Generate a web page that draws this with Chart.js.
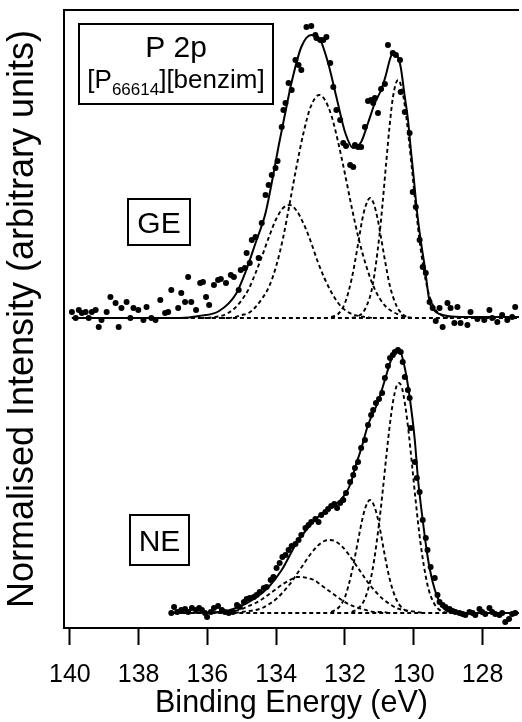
<!DOCTYPE html>
<html><head><meta charset="utf-8">
<script src="https://cdn.jsdelivr.net/npm/chart.js@4/dist/chart.umd.min.js"></script>
<style>html,body{margin:0;padding:0;background:#fff}canvas{display:block}</style>
</head><body>
<canvas id="c" width="522" height="722"></canvas>
<script>
// ---------- tick labels ----------
const xTicks = [140, 138, 136, 134, 132, 130, 128];

// ---------- GE spectrum (upper trace) ----------
const geDataE = [139.94,139.83,139.74,139.65,139.54,139.45,139.36,139.25,139.16,139.08,138.93,138.82,138.67,138.58,138.50,138.35,138.24,138.15,138.01,137.86,137.77,137.63,137.51,137.37,137.23,137.14,137.05,136.85,136.76,136.65,136.56,136.47,136.33,136.21,136.13,136.04,135.95,135.81,135.69,135.61,135.46,135.32,135.23,135.09,135.03,134.91,134.86,134.77,134.71,134.60,134.51,134.42,134.31,134.22,134.13,134.02,133.96,133.84,133.79,133.73,133.64,133.55,133.44,133.35,133.27,133.12,132.98,132.86,132.83,132.72,132.63,132.54,132.43,132.34,132.25,132.14,132.05,131.97,131.85,131.76,131.71,131.62,131.53,131.42,131.33,131.24,131.18,131.13,131.04,130.95,130.84,130.75,130.61,130.52,130.40,130.38,130.26,130.12,130.03,129.94,129.83,129.74,129.65,129.54,129.45,129.36,129.25,129.16,129.02,128.93,128.82,128.73,128.64,128.44,128.35,128.15,127.95,127.80,127.72,127.57,127.43,127.28,127.14,127.05];
const geDataY = [316,310,318,315,316,310,316,318,301,308,316,331,325,301,320,326,310,320,318,308,321,310,308,328,315,316,338,320,335,326,351,326,318,345,346,331,323,343,348,349,345,353,351,338,358,360,375,365,388,391,370,405,433,443,453,460,467,501,518,525,545,538,568,563,558,601,602,593,590,588,588,591,565,541,518,508,485,482,463,461,483,481,481,501,527,528,525,530,515,539,544,583,575,573,568,536,516,495,436,421,388,361,355,326,320,307,320,301,325,320,305,321,305,303,316,309,308,318,310,306,313,308,311,321];

const geFitE = [139.94,136.79,136.24,135.66,135.17,134.88,134.60,134.31,134.13,133.93,133.79,133.55,133.27,132.98,132.72,132.49,132.25,131.99,131.76,131.53,131.33,131.13,130.95,130.81,130.69,130.61,130.46,130.38,130.26,130.17,130.09,130.00,129.91,129.80,129.68,129.54,129.42,129.25,129.02,128.44,126.94];
const geFitY = [310,310,312,317,334,357,385,415,445,482,506,546,581,593,588,565,531,495,480,486,505,525,538,553,569,575,571,561,531,509,480,450,418,388,361,326,318,314,312,311,311];

const geBaseE = [139.94, 126.94];
const geBaseY = [310, 310];

const geAE = [135.6,135.4,135.2,135.0,134.8,134.6,134.4,134.2,134.0,133.8,133.6,133.4,133.2,133.0,132.75,132.6,132.4,132.2,132.0,131.8,131.6,131.4,131.2,131.0,130.8,130.6,130.4,130.2,130.0];
const geAY = [310,310,311,313,315,321,330,342,362,390,426,463,496,521,533,529,513,486,454,420,389,364,344,330,321,316,313,311,310];

const geBE = [136.2,136.0,135.8,135.6,135.4,135.2,135.0,134.8,134.6,134.4,134.2,134.0,133.8,133.6,133.4,133.2,133.0,132.8,132.6,132.4,132.2,132.0,131.8,131.6,131.4,131.2];
const geBY = [310,310,311,312,315,320,328,339,355,373,392,409,420,423,417,404,387,367,350,336,325,318,314,312,311,310];

const geCE = [132.4,132.2,132.0,131.8,131.7,131.6,131.5,131.4,131.27,131.15,131.05,130.95,130.85,130.7,130.5,130.3,130.1];
const geCY = [311,314,325,350,368,388,408,422,430,423,409,390,370,343,322,313,310];

const geDE = [131.8,131.6,131.4,131.2,131.0,130.9,130.8,130.7,130.6,130.46,130.35,130.25,130.15,130.05,129.95,129.8,129.6,129.4,129.2,129.0];
const geDY = [310,312,320,342,392,427,466,503,532,548,540,520,491,458,424,379,339,320,313,310];

// ---------- NE spectrum (lower trace) ----------
const neDataE = [137.05,136.97,136.88,136.76,136.65,136.56,136.45,136.33,136.24,136.16,136.07,136.01,135.90,135.81,135.69,135.58,135.49,135.38,135.26,135.14,135.06,134.94,134.86,134.77,134.65,134.57,134.48,134.36,134.28,134.16,134.08,133.99,133.90,133.82,133.73,133.64,133.55,133.44,133.35,133.27,133.15,133.06,132.98,132.86,132.77,132.69,132.57,132.49,132.40,132.31,132.23,132.14,132.05,131.97,131.85,131.76,131.71,131.62,131.53,131.42,131.33,131.24,131.18,131.10,131.01,130.92,130.84,130.75,130.69,130.61,130.55,130.46,130.38,130.32,130.26,130.17,130.12,130.09,129.97,129.91,129.83,129.74,129.65,129.60,129.51,129.39,129.31,129.25,129.16,129.08,128.96,128.87,128.79,128.67,128.58,128.50,128.38,128.29,128.21,128.09,128.01,127.92,127.80,127.72,127.63,127.51,127.43,127.34,127.23,127.14,127.05];
const neDataY = [15,21,16,18,19,16,20,18,20,18,15,11,16,20,22,18,16,15,16,23,21,26,29,30,31,33,36,40,41,48,51,60,65,71,73,78,82,84,88,93,100,103,106,109,106,113,116,119,122,124,120,125,128,135,146,153,160,166,180,188,203,213,218,225,229,235,250,262,270,273,276,278,276,266,251,238,230,200,166,150,136,108,90,78,61,50,33,26,23,21,19,17,16,15,14,13,16,15,13,19,16,14,20,16,14,13,15,6,9,14,15];

const neFitE = [137.11,135.66,135.09,134.60,134.22,133.84,133.44,133.06,132.69,132.28,131.99,131.82,131.71,131.53,131.33,131.04,130.84,130.66,130.52,130.40,130.26,130.12,129.97,129.88,129.74,129.60,129.45,129.25,129.02,128.64,126.94];
const neFitY = [15,16,21,30,41,58,83,101,114,123,134,146,160,179,203,226,248,268,276,276,260,231,188,150,108,72,46,26,17,15,15];

const neBaseE = [137.11, 126.94];
const neBaseY = [15, 15];

const neAE = [131.8,131.6,131.4,131.2,131.0,130.9,130.8,130.7,130.6,130.5,130.43,130.35,130.25,130.15,130.05,129.95,129.8,129.6,129.4,129.2,129.0];
const neAY = [16,20,31,58,107,138,171,202,227,242,245,241,223,196,163,129,84,43,24,17,15];

const neBE = [132.4,132.2,132.0,131.8,131.7,131.6,131.5,131.4,131.27,131.15,131.05,130.95,130.85,130.7,130.5,130.3,130.1];
const neBY = [16,20,31,56,73,91,108,121,128,122,110,93,74,49,28,19,16];

const neCE = [135.2,135.0,134.8,134.6,134.4,134.2,134.0,133.8,133.6,133.4,133.2,133.0,132.8,132.6,132.45,132.3,132.1,131.9,131.7,131.5,131.3,131.1,130.9,130.7,130.5,130.3,130.1,129.9,129.7];
const neCY = [15,16,17,18,20,24,29,36,44,54,64,74,82,87,88,87,82,74,64,54,44,36,29,24,20,18,17,16,15];

const neDE = [135.8,135.6,135.4,135.2,135.0,134.8,134.6,134.4,134.2,134.0,133.8,133.6,133.4,133.27,133.1,132.9,132.7,132.5,132.3,132.1,131.9,131.7,131.5,131.3,131.1,130.9,130.7];
const neDY = [15,16,16,17,19,22,25,29,34,39,44,48,51,51,50,48,43,38,33,28,24,21,19,17,16,16,15];

// ---------- helpers ----------
function pts(xs, ys) { return xs.map((x, i) => ({ x: x, y: ys[i] })); }
const FONT = '"Liberation Sans", Arial, Helvetica, sans-serif';

function dots(label, e, y) {
  return { label, data: pts(e, y), showLine: false, pointRadius: 3, pointHoverRadius: 3,
           pointBackgroundColor: '#000', pointBorderWidth: 0, order: 0 };
}
function solid(label, e, y) {
  return { label, data: pts(e, y), showLine: true, pointRadius: 0, borderColor: '#000',
           borderWidth: 2, cubicInterpolationMode: 'monotone', order: 1 };
}
function dashed(label, e, y) {
  return { label, data: pts(e, y), showLine: true, pointRadius: 0, borderColor: '#000',
           borderWidth: 1.9, borderDash: [4, 3], cubicInterpolationMode: 'monotone', order: 2 };
}

const datasets = [
  dots('GE data', geDataE, geDataY),
  solid('GE fit', geFitE, geFitY),
  dashed('GE baseline', geBaseE, geBaseY),
  dashed('GE comp 1', geAE, geAY),
  dashed('GE comp 2', geBE, geBY),
  dashed('GE comp 3', geCE, geCY),
  dashed('GE comp 4', geDE, geDY),
  dots('NE data', neDataE, neDataY),
  solid('NE fit', neFitE, neFitY),
  dashed('NE baseline', neBaseE, neBaseY),
  dashed('NE comp 1', neAE, neAY),
  dashed('NE comp 2', neBE, neBY),
  dashed('NE comp 3', neCE, neCY),
  dashed('NE comp 4', neDE, neDY)
];

const framePlugin = {
  id: 'frameAndLabels',
  afterDraw(chart) {
    const ctx = chart.ctx, a = chart.chartArea;
    ctx.save();
    ctx.strokeStyle = '#000';
    ctx.lineWidth = 2;
    ctx.beginPath();
    ctx.moveTo(a.left - 1, a.top);
    ctx.lineTo(a.right, a.top);
    ctx.stroke();

    function box(x, y, w, h) { ctx.lineWidth = 2; ctx.strokeRect(x, y, w, h); }
    ctx.fillStyle = '#000';
    ctx.textBaseline = 'alphabetic';
    ctx.textAlign = 'left';

    box(79, 24, 194, 80);
    ctx.font = '30px ' + FONT;
    let t = 'P 2p';
    ctx.fillText(t, 176 - ctx.measureText(t).width / 2, 57);
    const f1 = '26px ' + FONT, f2 = '17px ' + FONT;
    ctx.font = f1; const w1 = ctx.measureText('[P').width, w3 = ctx.measureText('][benzim]').width;
    ctx.font = f2; const w2 = ctx.measureText('66614').width;
    let x0 = 176 - (w1 + w2 + w3) / 2;
    ctx.font = f1; ctx.fillText('[P', x0, 88);
    ctx.font = f2; ctx.fillText('66614', x0 + w1, 95);
    ctx.font = f1; ctx.fillText('][benzim]', x0 + w1 + w2, 88);

    box(128, 199, 62, 46);
    ctx.font = '30px ' + FONT;
    t = 'GE'; ctx.fillText(t, 159 - ctx.measureText(t).width / 2, 233);
    box(130, 515, 59, 50);
    t = 'NE'; ctx.fillText(t, 159.5 - ctx.measureText(t).width / 2, 551);
    ctx.restore();
  }
};

new Chart(document.getElementById('c'), {
  type: 'scatter',
  data: { datasets },
  options: {
    responsive: false,
    animation: false,
    devicePixelRatio: 1,
    layout: { padding: { top: 10, right: 0, left: 0, bottom: 0 } },
    plugins: { legend: { display: false }, tooltip: { enabled: false } },
    events: [],
    scales: {
      x: {
        type: 'linear', reverse: true, min: 126.94, max: 140.17, position: 'bottom',
        afterBuildTicks: s => { s.ticks = xTicks.map(v => ({ value: v })); },
        afterFit: s => { s.height = 94; },
        ticks: { color: '#000', font: { family: FONT, size: 25 }, padding: 15, maxRotation: 0, autoSkip: false },
        grid: { drawOnChartArea: false, drawTicks: true, tickLength: 17, tickWidth: 2, tickColor: '#000' },
        border: { display: true, color: '#000', width: 2 },
        title: { display: true, text: 'Binding Energy (eV)', color: '#000',
                 font: { family: FONT, size: 30.5 }, padding: { top: 0, bottom: 0 } }
      },
      y: {
        type: 'linear', min: 0, max: 618,
        afterFit: s => { s.width = 64; },
        ticks: { display: false },
        grid: { drawOnChartArea: false, drawTicks: false },
        border: { display: true, color: '#000', width: 2 },
        title: { display: true, text: 'Normalised Intensity (arbitrary units)', color: '#000',
                 font: { family: FONT, size: 36 }, padding: { top: 1, bottom: 0 } }
      }
    }
  },
  plugins: [framePlugin]
});
</script>
</body></html>
